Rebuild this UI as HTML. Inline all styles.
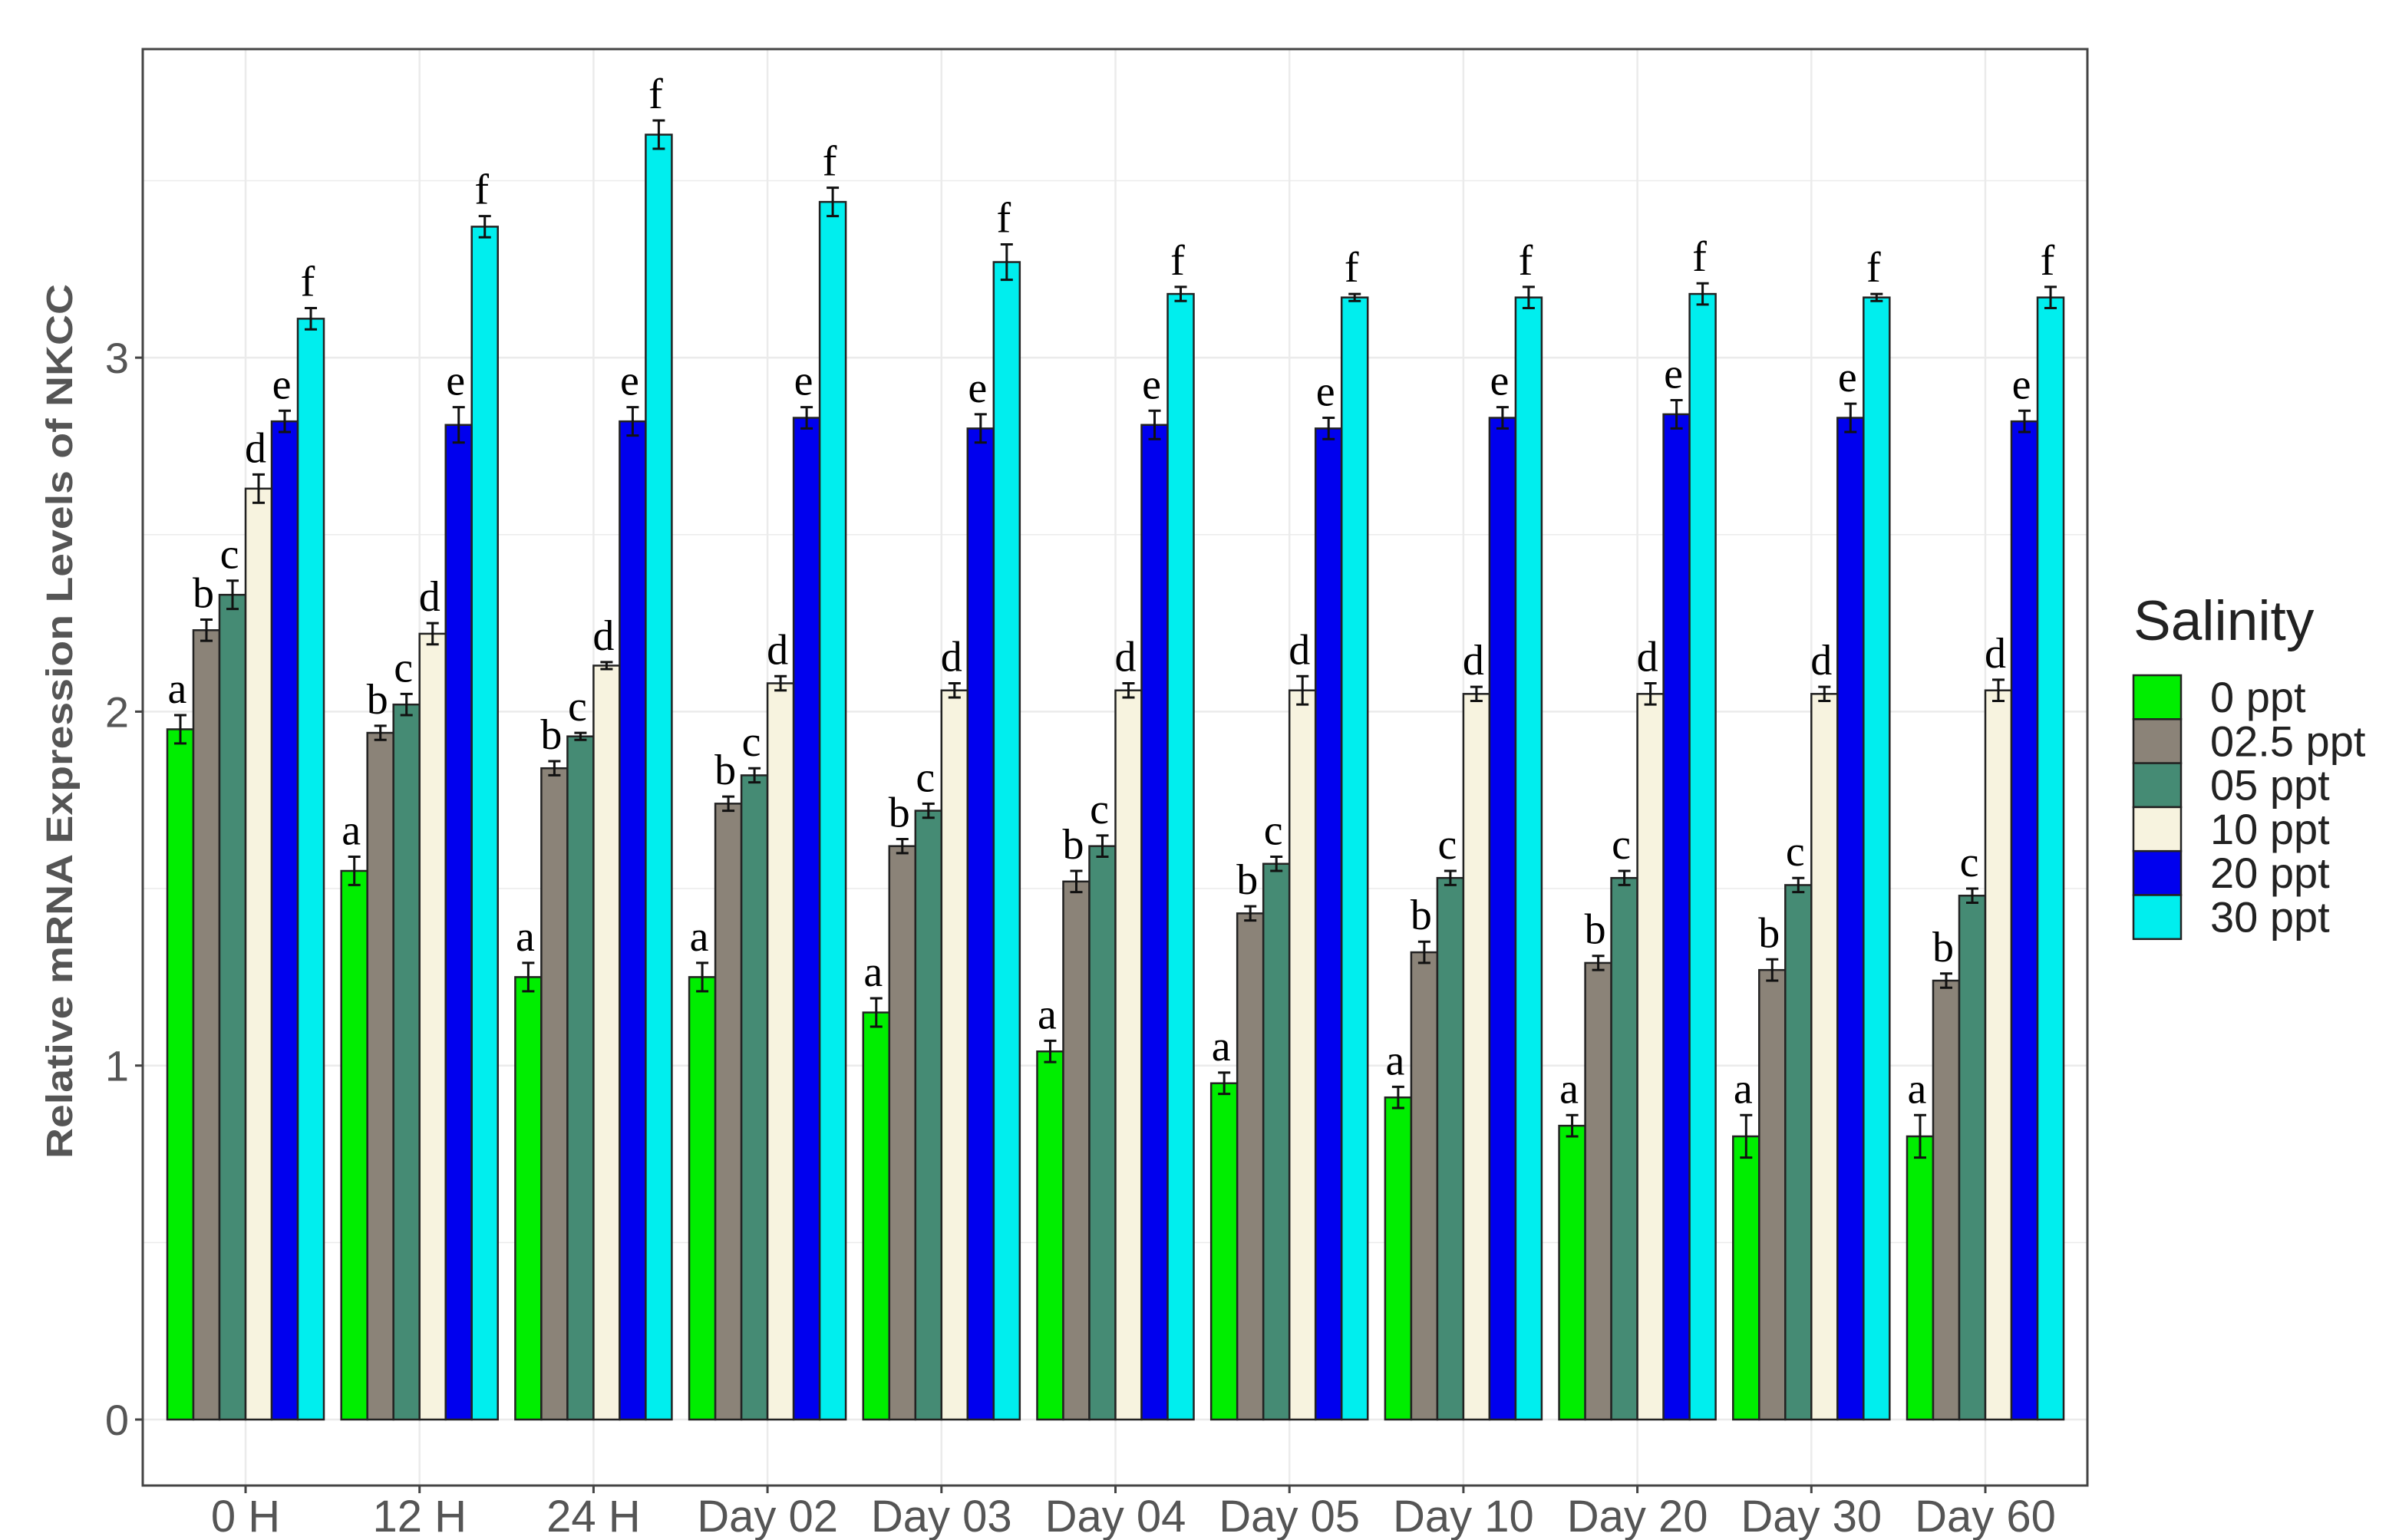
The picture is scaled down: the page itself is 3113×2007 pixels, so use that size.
<!DOCTYPE html>
<html><head><meta charset="utf-8"><style>
html,body{margin:0;padding:0;background:#fff;}
svg{display:block;}
</style></head><body>
<svg id="chart" width="3113" height="2007" viewBox="0 0 3113 2007" xmlns="http://www.w3.org/2000/svg">
<g id="grid"></g>
<g id="bars"></g>
<g id="axes"></g>
<text transform="translate(94,940) rotate(-90)" text-anchor="middle" font-family="Liberation Sans, sans-serif" font-weight="bold" font-size="48" fill="#555" textLength="1140" lengthAdjust="spacingAndGlyphs">Relative mRNA Expression Levels of NKCC</text>
<g id="legend"></g>
</svg>
<script>
const categories = ["0 H","12 H","24 H","Day 02","Day 03","Day 04","Day 05","Day 10","Day 20","Day 30","Day 60"];
const seriesNames = ["0 ppt","02.5 ppt","05 ppt","10 ppt","20 ppt","30 ppt"];
const s0 = [1.95,1.55,1.25,1.25,1.15,1.04,0.95,0.91,0.83,0.80,0.80];
const s25 = [2.23,1.94,1.84,1.74,1.62,1.52,1.43,1.32,1.29,1.27,1.24];
const s5 = [2.33,2.02,1.93,1.82,1.72,1.62,1.57,1.53,1.53,1.51,1.48];
const s10 = [2.63,2.22,2.13,2.08,2.06,2.06,2.06,2.05,2.05,2.05,2.06];
const s20 = [2.82,2.81,2.82,2.83,2.80,2.81,2.80,2.83,2.84,2.83,2.82];
const s30 = [3.11,3.37,3.63,3.44,3.27,3.18,3.17,3.17,3.18,3.17,3.17];
const e0 = [0.04,0.04,0.04,0.04,0.04,0.03,0.03,0.03,0.03,0.06,0.06];
const e25 = [0.03,0.02,0.02,0.02,0.02,0.03,0.02,0.03,0.02,0.03,0.02];
const e5 = [0.04,0.03,0.01,0.02,0.02,0.03,0.02,0.02,0.02,0.02,0.02];
const e10 = [0.04,0.03,0.01,0.02,0.02,0.02,0.04,0.02,0.03,0.02,0.03];
const e20 = [0.03,0.05,0.04,0.03,0.04,0.04,0.03,0.03,0.04,0.04,0.03];
const e30 = [0.03,0.03,0.04,0.04,0.05,0.02,0.01,0.03,0.03,0.01,0.03];
const letters = ["a","b","c","d","e","f"];
const yTicks = [0,1,2,3];
const series = [s0,s25,s5,s10,s20,s30];
const errs = [e0,e25,e5,e10,e20,e30];
const colors = ["#00ee00","#8b8378","#458b74","#f7f3df","#0000ee","#00eeee"];

const NS="http://www.w3.org/2000/svg";
const L=186,R=2720,T=64,B=1936;
const y0px=1850, unit=461.3;
const yS=v=>y0px-v*unit;
const c0=320, step=226.7;
const xS=i=>c0+i*step;
const bw=step*0.9/6;
function mk(tag,attrs,parent){const e=document.createElementNS(NS,tag);for(const k in attrs)e.setAttribute(k,attrs[k]);parent.appendChild(e);return e;}
const grid=document.getElementById('grid'),bars=document.getElementById('bars'),axes=document.getElementById('axes'),legend=document.getElementById('legend');
mk('rect',{x:L,y:T,width:R-L,height:B-T,fill:'#fff'},grid);
for(let v=0;v<=3.5;v+=0.5){const g=mk('line',{x1:L,x2:R,y1:yS(v),y2:yS(v),stroke:'#ebebeb','stroke-width':v%1===0?2.5:1.5},grid);

}
categories.forEach((c,i)=>{const g=mk('line',{x1:xS(i),x2:xS(i),y1:T,y2:B,stroke:'#ebebeb','stroke-width':2.5},grid);

});
series.forEach((s,j)=>{s.forEach((v,i)=>{
 const x=xS(i)-3*bw+j*bw;
 const r=mk('rect',{x:x,y:yS(v),width:bw,height:yS(0)-yS(v),fill:colors[j],stroke:'#222','stroke-width':2.5},bars);
 
 
 const e=errs[j][i],cx=x+bw/2;
 const eb=mk('path',{d:`M${cx-8},${yS(v+e)}H${cx+8}M${cx},${yS(v+e)}V${yS(v-e)}M${cx-8},${yS(v-e)}H${cx+8}`,stroke:'#111','stroke-width':3,fill:'none'},bars);
 
 
 const t=mk('text',{x:cx-4,y:yS(v+e)-16,'text-anchor':'middle','font-family':'Liberation Serif, serif','font-size':56,fill:'#000'},bars);
 t.textContent=letters[j];
 
 
});});
mk('rect',{x:L,y:T,width:R-L,height:B-T,fill:'none',stroke:'#444','stroke-width':3},axes);
yTicks.forEach(v=>{mk('line',{x1:L-10,x2:L,y1:yS(v),y2:yS(v),stroke:'#444','stroke-width':3},axes);
 const t=mk('text',{x:L-18,y:yS(v)+20,'text-anchor':'end','font-family':'Liberation Sans, sans-serif','font-size':56,fill:'#555'},axes);
 t.textContent=v;
 
 });
categories.forEach((c,i)=>{mk('line',{x1:xS(i),x2:xS(i),y1:B,y2:B+10,stroke:'#444','stroke-width':3},axes);
 const t=mk('text',{x:xS(i),y:1996,'text-anchor':'middle','font-family':'Liberation Sans, sans-serif','font-size':58,fill:'#555'},axes);
 t.textContent=c;
 
 });
const lt=mk('text',{x:2780,y:834,'font-family':'Liberation Sans, sans-serif','font-size':73,fill:'#222'},legend);
lt.textContent='Salinity';


seriesNames.forEach((n,j)=>{const y=880+j*57.3;
 const r=mk('rect',{x:2780,y:y,width:62,height:57.3,fill:colors[j],stroke:'#222','stroke-width':2.5},legend);
 
 
 const t=mk('text',{x:2880,y:y+48,'font-family':'Liberation Sans, sans-serif','font-size':56,fill:'#222'},legend);
 t.textContent=n;
 
 });
</script>
</body></html>
